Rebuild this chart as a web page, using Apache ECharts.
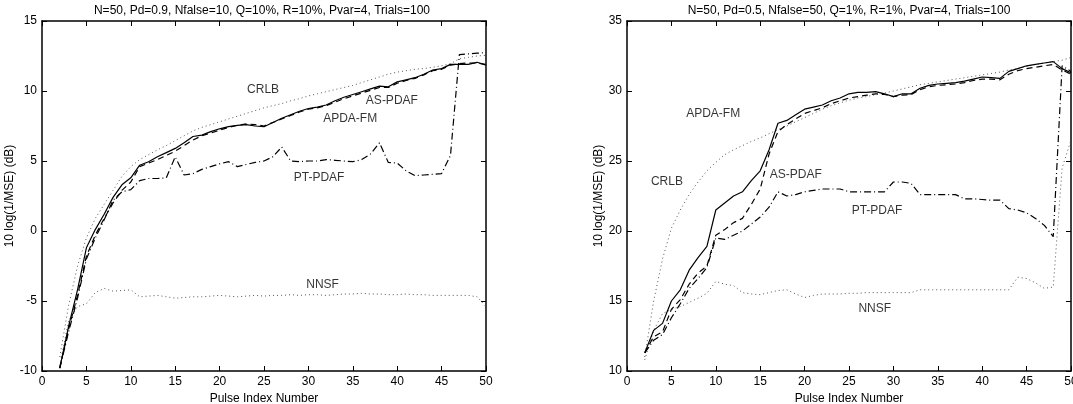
<!DOCTYPE html>
<html>
<head>
<meta charset="utf-8">
<script src="https://cdn.jsdelivr.net/npm/echarts@6/dist/echarts.min.js"></script>
<style>
  html, body { margin: 0; padding: 0; background: #fff; }
  #main { width: 1073px; height: 404px; }
</style>
</head>
<body>
<div id="main"></div>
<script>
// pulse index (x axis)
var pulse = [2,3,4,5,6,7,8,9,10,11,12,13,14,15,16,17,18,19,20,21,22,23,24,25,26,
             27,28,29,30,31,32,33,34,35,36,37,38,39,40,41,42,43,44,45,46,47,48,49,50];

// left panel: N=50, Pd=0.9
var leftCrlb = [-9.0,-5.3,-2.5,-0.5,0.9,1.9,2.9,3.9,4.6,5.1,5.45,5.8,6.1,6.45,6.8,7.15,7.4,7.6,7.8,8.0,8.2,8.4,8.6,8.8,8.95,
                9.1,9.3,9.45,9.65,9.8,9.95,10.1,10.25,10.4,10.6,10.8,11.0,11.2,11.35,11.45,11.55,11.6,11.7,11.8,11.95,12.3,12.4,12.5,12.55];
var leftApda = [-9.8,-6.8,-4.2,-1.2,0.1,1.2,2.4,3.3,3.8,4.7,4.95,5.3,5.6,5.9,6.3,6.75,6.85,7.1,7.3,7.45,7.55,7.6,7.5,7.45,7.75,
                8.05,8.3,8.55,8.75,8.85,9.0,9.3,9.55,9.75,9.95,10.15,10.35,10.3,10.65,10.8,10.95,11.2,11.5,11.6,11.9,11.9,11.9,12.05,11.85];
var leftAs   = [-9.8,-7.0,-4.6,-1.8,-0.3,0.9,2.0,2.9,3.5,4.6,4.85,5.1,5.4,5.7,6.1,6.5,6.8,7.0,7.2,7.4,7.55,7.65,7.6,7.5,7.75,
                8.0,8.25,8.5,8.7,8.8,8.95,9.2,9.45,9.65,9.85,10.05,10.25,10.25,10.55,10.75,10.9,11.15,11.45,11.55,11.85,11.95,12.0,12.0,11.9];
var leftPt   = [-9.8,-7.2,-4.8,-2.0,-0.5,0.8,2.2,2.8,2.95,3.6,3.75,3.75,3.8,5.3,4.0,4.1,4.4,4.6,4.8,4.95,4.6,4.75,4.9,5.0,5.3,
                6.0,5.0,4.95,5.0,5.0,5.1,5.05,5.0,4.95,5.1,5.5,6.3,4.9,4.85,4.3,3.95,4.0,4.05,4.1,5.4,12.6,12.65,12.7,12.75];
var leftNnsf = [-9.6,-6.4,-5.4,-5.2,-4.4,-4.1,-4.3,-4.25,-4.2,-4.7,-4.65,-4.6,-4.7,-4.8,-4.75,-4.7,-4.7,-4.65,-4.6,-4.65,-4.7,-4.65,-4.6,-4.65,-4.6,
                -4.6,-4.55,-4.6,-4.55,-4.55,-4.6,-4.55,-4.5,-4.5,-4.45,-4.5,-4.5,-4.55,-4.55,-4.5,-4.55,-4.55,-4.6,-4.6,-4.6,-4.6,-4.6,-4.7,-5.4];
var leftLabels = [['CRLB',24.9,10.1],['AS-PDAF',39.4,9.3],['APDA-FM',34.7,8.0],['PT-PDAF',31.2,3.8],['NNSF',31.6,-3.85]];

// right panel: N=50, Pd=0.5
var rightCrlb = [11.0,15.0,18.0,20.2,21.5,22.6,23.5,24.3,24.9,25.45,25.8,26.1,26.4,26.65,26.95,27.25,27.5,27.8,28.1,28.4,28.7,28.95,29.15,29.35,29.5,
                 29.6,29.75,29.85,30.0,30.15,30.3,30.45,30.55,30.65,30.75,30.85,30.95,31.05,31.15,31.25,31.35,31.5,31.6,31.75,31.9,32.0,32.1,32.2,32.4];
var rightApda = [11.3,12.9,13.4,15.0,15.8,17.2,18.1,18.9,21.5,22.0,22.5,22.8,23.6,24.3,25.8,27.7,27.9,28.3,28.7,28.85,29.0,29.3,29.5,29.8,29.9,
                 29.9,29.95,29.8,29.6,29.8,29.8,30.2,30.4,30.5,30.55,30.6,30.7,30.85,31.0,30.95,30.9,31.4,31.6,31.8,31.9,32.0,32.1,31.6,31.3];
var rightAs   = [11.3,12.45,12.8,14.4,15.1,16.2,17.0,17.5,19.7,20.1,20.6,20.9,21.9,23.0,25.5,27.1,27.6,28.0,28.4,28.6,28.8,29.1,29.3,29.5,29.6,
                 29.7,29.8,29.75,29.6,29.7,29.75,30.1,30.3,30.4,30.45,30.5,30.6,30.75,30.85,30.85,30.8,31.2,31.45,31.6,31.7,31.8,31.9,31.5,31.2];
var rightPt   = [11.3,12.2,12.6,13.8,14.8,15.9,16.6,17.4,19.5,19.4,19.7,20.0,20.5,21.0,21.7,22.8,22.5,22.6,22.8,22.9,23.0,23.0,23.0,22.8,22.8,
                 22.8,22.8,22.8,23.5,23.5,23.4,22.6,22.6,22.6,22.6,22.6,22.3,22.3,22.25,22.2,22.2,21.6,21.5,21.3,20.9,20.4,19.6,31.8,31.4];
var rightNnsf = [10.8,12.9,14.1,14.4,14.6,14.9,15.2,15.55,16.4,16.2,16.1,15.6,15.5,15.45,15.6,15.75,15.8,15.5,15.25,15.4,15.5,15.5,15.5,15.55,15.55,
                 15.6,15.6,15.6,15.6,15.6,15.6,15.8,15.8,15.8,15.8,15.8,15.8,15.8,15.8,15.8,15.8,15.8,16.7,16.6,16.3,15.9,16.0,24.5,26.5];
var rightLabels = [['APDA-FM',9.7,28.35],['CRLB',4.5,23.5],['AS-PDAF',19.0,24.05],['PT-PDAF',28.15,21.45],['NNSF',27.9,14.45]];

var FONT = '"Liberation Sans", Arial, Helvetica, sans-serif';
var chart = echarts.init(document.getElementById('main'), null, {renderer: 'canvas'});

function pts(vals) {
    return pulse.map(function (x, i) { return [x, vals[i]]; });
}

var styles = {
    crlb: {color: '#555', width: 1, type: [1, 3]},
    apda: {color: '#000', width: 1.2, type: 'solid'},
    as:   {color: '#000', width: 1.2, type: [6, 4]},
    pt:   {color: '#000', width: 1.2, type: [7, 3, 1, 3]},
    nnsf: {color: '#555', width: 1, type: [1, 3]}
};

function lineSeries(name, vals, st, idx) {
    return {
        name: name, type: 'line', xAxisIndex: idx, yAxisIndex: idx,
        data: pts(vals), showSymbol: false, symbol: 'none', silent: true,
        lineStyle: {color: st.color, width: st.width, type: st.type, cap: 'butt'},
        z: 3
    };
}

function labelSeries(labels, idx) {
    return {
        type: 'scatter', xAxisIndex: idx, yAxisIndex: idx, symbolSize: 0, silent: true,
        data: labels.map(function (l) { return {value: [l[1], l[2]], name: l[0]}; }),
        label: {show: true, position: 'inside', formatter: '{b}', color: '#000',
                fontSize: 12, fontFamily: FONT},
        z: 5
    };
}

var axisLine = {show: true, onZero: false, lineStyle: {color: '#000', width: 1.5}};
var tickIn = {show: true, inside: true, length: 5, lineStyle: {color: '#000', width: 1}};
var lbl = {color: '#000', fontSize: 12, fontFamily: FONT, margin: 5};

function xMain(gi) {
    return {type: 'value', gridIndex: gi, min: 0, max: 50, interval: 5, position: 'bottom',
            name: 'Pulse Index Number', nameLocation: 'middle', nameGap: 13,
            nameTextStyle: {color: '#000', fontSize: 12, fontFamily: FONT},
            axisLine: axisLine, axisTick: tickIn, axisLabel: lbl, splitLine: {show: false}};
}
function xTop(gi) {
    return {type: 'value', gridIndex: gi, min: 0, max: 50, interval: 5, position: 'top',
            axisLine: axisLine, axisTick: tickIn, axisLabel: {show: false}, splitLine: {show: false}};
}
function yMain(gi, mn, mx) {
    return {type: 'value', gridIndex: gi, min: mn, max: mx, interval: 5, position: 'left',
            name: '10 log(1/MSE) (dB)', nameLocation: 'middle', nameGap: 19,
            nameTextStyle: {color: '#000', fontSize: 12, fontFamily: FONT},
            axisLine: axisLine, axisTick: tickIn, axisLabel: lbl, splitLine: {show: false}};
}
function yRight(gi, mn, mx) {
    return {type: 'value', gridIndex: gi, min: mn, max: mx, interval: 5, position: 'right',
            axisLine: axisLine, axisTick: tickIn, axisLabel: {show: false}, splitLine: {show: false}};
}

var option = {
    backgroundColor: '#fff',
    animation: false,
    title: [
        {text: 'N=50, Pd=0.9, Nfalse=10, Q=10%, R=10%, Pvar=4, Trials=100', left: 257, top: 0,
         textAlign: 'center', textStyle: {fontSize: 12, fontWeight: 'normal', color: '#000', fontFamily: FONT}},
        {text: 'N=50, Pd=0.5, Nfalse=50, Q=1%, R=1%, Pvar=4, Trials=100', left: 844, top: 0,
         textAlign: 'center', textStyle: {fontSize: 12, fontWeight: 'normal', color: '#000', fontFamily: FONT}}
    ],
    grid: [
        {left: 42, top: 21, width: 444, height: 350, outerBoundsMode: 'none'},
        {left: 627, top: 21, width: 444, height: 350, outerBoundsMode: 'none'}
    ],
    xAxis: [xMain(0), xMain(1), xTop(0), xTop(1)],
    yAxis: [yMain(0, -10, 15), yMain(1, 10, 35), yRight(0, -10, 15), yRight(1, 10, 35)],
    series: [
        lineSeries('CRLB', leftCrlb, styles.crlb, 0),
        lineSeries('NNSF', leftNnsf, styles.nnsf, 0),
        lineSeries('PT-PDAF', leftPt, styles.pt, 0),
        lineSeries('AS-PDAF', leftAs, styles.as, 0),
        lineSeries('APDA-FM', leftApda, styles.apda, 0),
        labelSeries(leftLabels, 0),
        lineSeries('CRLB', rightCrlb, styles.crlb, 1),
        lineSeries('NNSF', rightNnsf, styles.nnsf, 1),
        lineSeries('PT-PDAF', rightPt, styles.pt, 1),
        lineSeries('AS-PDAF', rightAs, styles.as, 1),
        lineSeries('APDA-FM', rightApda, styles.apda, 1),
        labelSeries(rightLabels, 1)
    ]
};
chart.setOption(option);
</script>
</body>
</html>
